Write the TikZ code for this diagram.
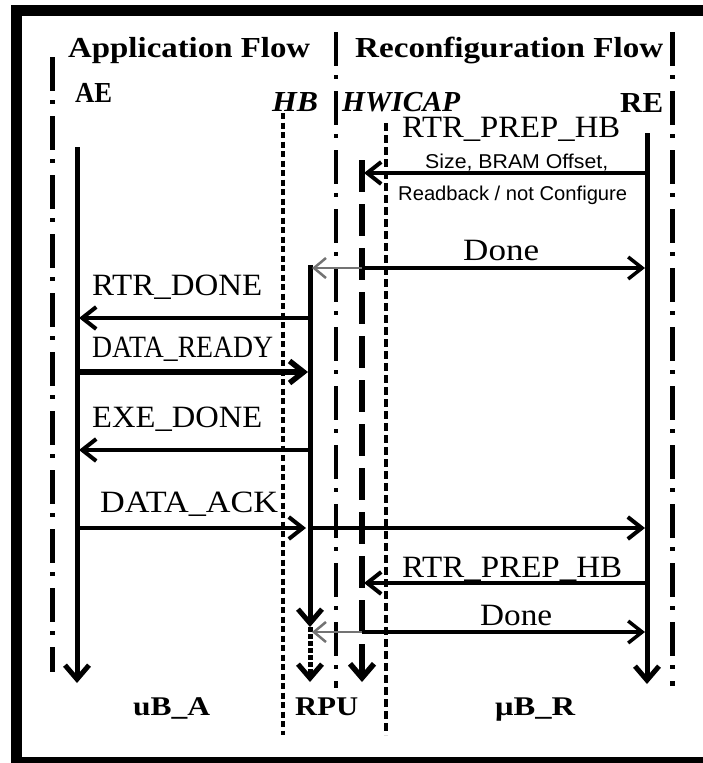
\documentclass[tikz,border=0pt]{standalone}
\usepackage{fontspec}
\setmainfont{Liberation Serif}
\setsansfont{Liberation Sans}
\usepackage{graphicx}
\usetikzlibrary{arrows.meta}
\newcommand\hfnt{\fontsize{29}{32}\selectfont\bfseries}
\newcommand\hifnt{\fontsize{29}{32}\selectfont\bfseries\itshape}
\newcommand\rfnt{\fontsize{31}{34}\selectfont}
\newcommand\sfnt{\fontsize{20}{22}\selectfont\sffamily}
\newcommand\bfnt{\fontsize{27}{30}\selectfont\bfseries}
\newcommand\fitw[2]{\resizebox{#1pt}{\height}{#2}}
\begin{document}
\begin{tikzpicture}[x=1pt,y=-1pt,
  txt/.style={inner sep=0pt, anchor=base west},
  dashdotline/.style={line width=5pt, dash pattern=on 34pt off 9pt on 4pt off 12pt},
  hbdots/.style={line width=4.5pt, dash pattern=on 6pt off 3.5pt},
  capdash/.style={line width=4pt, dash pattern=on 8pt off 4pt},
  life/.style={line width=5pt, -{Straight Barb[length=14pt,width=24pt]}},
  msg/.style={line width=4pt, -{Straight Barb[length=14pt,width=22pt]}},
  faint/.style={line width=2.5pt, draw=black!55, -{Straight Barb[length=12pt,width=20pt]}}
]
\useasboundingbox (0,0) rectangle (703,763);
\clip (0,0) rectangle (703,763);
\fill[white] (0,0) rectangle (703,763);
\draw[line width=11pt] (16,10) rectangle (715,762);

% headers
\node[txt] (apf) at (68,57) {\hfnt\fitw{242}{Application Flow}};
\node[txt] (rcf) at (355,57) {\hfnt\fitw{308}{Reconfiguration Flow}};
\node[txt] (ae) at (75,102) {\hfnt\fitw{37}{AE}};
\node[txt] (hb) at (272,111) {\hifnt\fitw{46}{HB}};
\node[txt] (hw) at (342,111) {\hifnt\fitw{118}{HWICAP}};
\node[txt] (re) at (620,112) {\hfnt\fitw{43}{RE}};

% coordinates
\coordinate (dl1) at (52,57);   \coordinate (dl2) at (52,672);
\coordinate (dm1) at (336,32);  \coordinate (dm2) at (336,688);
\coordinate (dr1) at (672,32);  \coordinate (dr2) at (672,686);
\coordinate (hd1) at (283,113); \coordinate (hd2) at (283,735);
\coordinate (cd1) at (386,123); \coordinate (cd2) at (386,735);
\coordinate (aeT) at (77,147);  \coordinate (aeB) at (77,683);
\coordinate (hbT) at (310,265); \coordinate (hbM) at (310,627); \coordinate (hbB) at (310,682);
\coordinate (hwT) at (362,160); \coordinate (hwB) at (362,682);
\coordinate (reT) at (647,133); \coordinate (reB) at (647,684);

% separators and lifelines
\draw[dashdotline] (dl1) -- (dl2);
\draw[dashdotline, line width=4.5pt] (dm1) -- (dm2);
\draw[dashdotline] (dr1) -- (dr2);
\draw[hbdots] (hd1) -- (hd2);
\draw[capdash] (cd1) -- (cd2);
\draw[life] (aeT) -- (aeB);
\draw[life] (hbT) -- (hbM);
\draw[life, dash pattern=on 5pt off 2pt] (hbM) -- (hbB);
\draw[life, line width=5.5pt, dash pattern=on 32pt off 12pt] (hwT) -- (hwB);
\draw[life] (reT) -- (reB);

% message points
\coordinate (m1r) at (647,173); \coordinate (m1l) at (364,173);
\coordinate (d1l) at (312,268); \coordinate (d1m) at (362,268); \coordinate (d1r) at (645,268);
\coordinate (m2r) at (310,318); \coordinate (m2l) at (79,318);
\coordinate (m3l) at (77,372);  \coordinate (m3r) at (308,372);
\coordinate (m4r) at (310,450); \coordinate (m4l) at (79,450);
\coordinate (m5l) at (77,528);  \coordinate (m5m) at (306,528); \coordinate (m5n) at (310,528); \coordinate (m5r) at (645,528);
\coordinate (m6r) at (647,583); \coordinate (m6l) at (364,583);
\coordinate (d2l) at (312,632); \coordinate (d2m) at (362,632); \coordinate (d2r) at (645,632);

\draw[msg] (m1r) -- (m1l);
\draw[faint] (d1m) -- (d1l);
\draw[msg, line width=3.5pt] (d1m) -- (d1r);
\draw[msg] (m2r) -- (m2l);
\draw[msg, line width=5.5pt] (m3l) -- (m3r);
\draw[msg] (m4r) -- (m4l);
\draw[msg] (m5l) -- (m5m);
\draw[msg] (m5n) -- (m5r);
\draw[msg] (m6r) -- (m6l);
\draw[faint] (d2m) -- (d2l);
\draw[msg, line width=3.5pt] (d2m) -- (d2r);

% message labels
\node[txt] (t1) at (402,137) {\rfnt\fitw{218}{RTR\_PREP\_HB}};
\node[txt] (t1a) at (425,168) {\sfnt\fitw{183}{Size, BRAM Offset,}};
\node[txt] (t1b) at (398,200) {\sfnt\fitw{229}{Readback / not Configure}};
\node[txt] (t2) at (463,260) {\rfnt\fitw{76}{Done}};
\node[txt] (t3) at (92,295) {\rfnt\fitw{170}{RTR\_DONE}};
\node[txt] (t4) at (92,357) {\rfnt\fitw{181}{DATA\_READY}};
\node[txt] (t5) at (92,427) {\rfnt\fitw{170}{EXE\_DONE}};
\node[txt] (t6) at (100,512) {\rfnt\fitw{178}{DATA\_ACK}};
\node[txt] (t7) at (402,577) {\rfnt\fitw{220}{RTR\_PREP\_HB}};
\node[txt] (t8) at (480,625) {\rfnt\fitw{72}{Done}};

% bottom labels
\node[txt] (uba) at (133,715) {\bfnt\fitw{77}{uB\_A}};
\node[txt] (rpu) at (295,715) {\bfnt\fitw{63}{RPU}};
\node[txt] (mbr) at (495,715) {\bfnt\fitw{80}{μB\_R}};
\end{tikzpicture}
\end{document}
